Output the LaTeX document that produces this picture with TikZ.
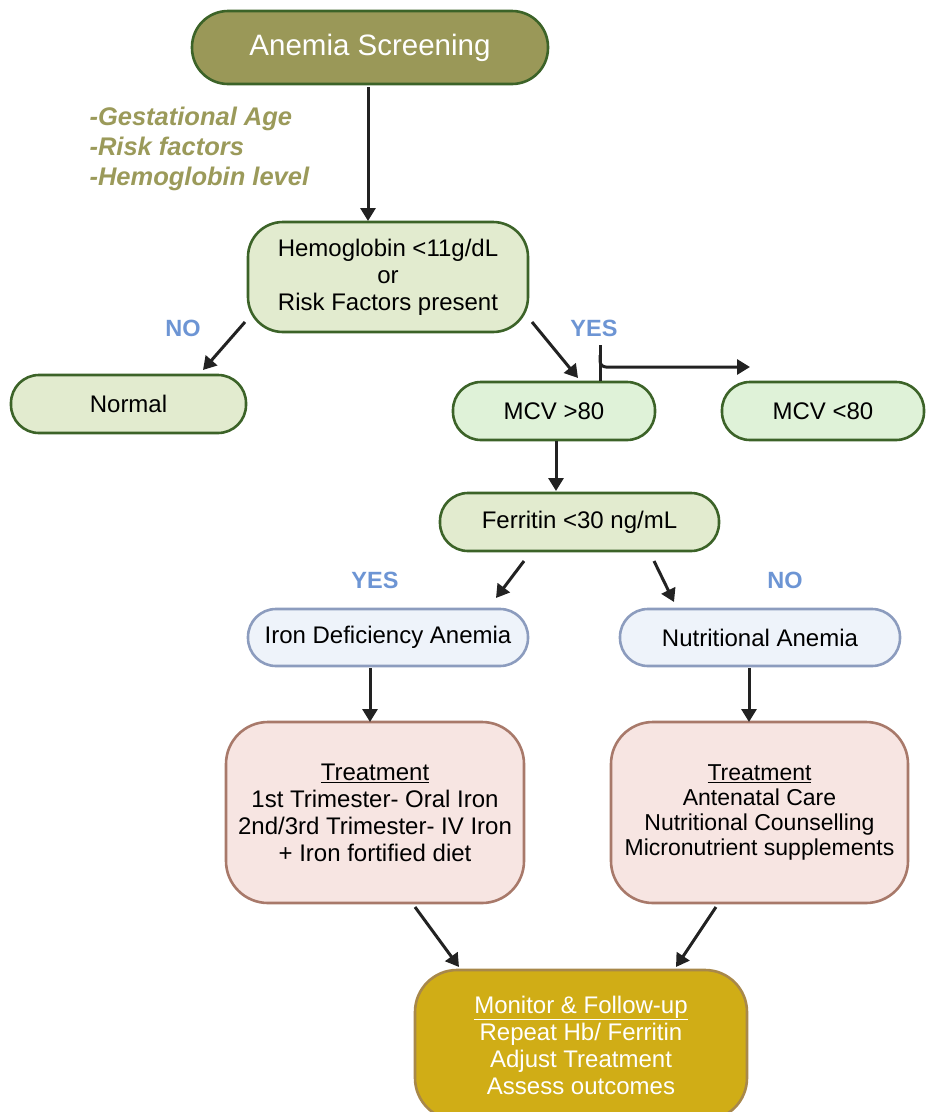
\documentclass[tikz,border=0pt]{standalone}
\usepackage{fontspec}
\setmainfont{Liberation Sans}
\usetikzlibrary{arrows.meta}

\definecolor{screenFill}{HTML}{9A9858}
\definecolor{boxEdge}{HTML}{3C6328}
\definecolor{hbFill}{HTML}{E2EBCF}
\definecolor{mcvFill}{HTML}{DFF2D8}
\definecolor{anemiaFill}{HTML}{EEF3FA}
\definecolor{anemiaEdge}{HTML}{8C9CBE}
\definecolor{treatFill}{HTML}{F7E5E2}
\definecolor{treatEdge}{HTML}{A8796A}
\definecolor{monFill}{HTML}{D0AD16}
\definecolor{monEdge}{HTML}{A8884A}
\definecolor{riskText}{HTML}{9B9A5A}
\definecolor{answer}{HTML}{6D95D4}
\definecolor{arrowCol}{HTML}{222222}

\tikzset{
  box/.style={draw=boxEdge, line width=2.6pt, inner sep=0pt, align=center,
    font=\fontsize{24}{27}\selectfont},
  greenbox/.style={box, fill=hbFill, minimum height=58pt, rounded corners=28pt},
  mcvbox/.style={box, fill=mcvFill, minimum width=202pt, minimum height=58pt, rounded corners=28pt},
  anemiabox/.style={box, draw=anemiaEdge, fill=anemiaFill, minimum width=280pt,
    minimum height=57pt, rounded corners=28pt},
  treatbox/.style={box, draw=treatEdge, fill=treatFill, minimum height=181pt, rounded corners=42pt},
  yesno/.style={text=answer, font=\fontsize{23.5}{27}\selectfont\bfseries},
  arr/.style={draw=arrowCol, line width=3pt, -{Triangle[length=13pt,width=15pt]}},
  plain/.style={draw=arrowCol, line width=3pt}
}

\begin{document}
\begin{tikzpicture}[x=1pt, y=-1pt]
  \useasboundingbox (0,0) rectangle (926,1112);
  \clip (0,0) rectangle (926,1112);

  \node[box, fill=screenFill, text=white, minimum width=356pt, minimum height=73pt,
    rounded corners=36pt, font=\fontsize{29.5}{32}\selectfont] (screen) at (370,47.5) {Anemia Screening};
  \node[anchor=west, align=left, text=riskText, font=\fontsize{25.5}{30}\selectfont\bfseries\itshape]
    (risk) at (86,149) {-Gestational Age\\-Risk factors\\-Hemoglobin level};

  \node[greenbox, minimum width=280pt, minimum height=110pt, rounded corners=35pt]
    (hb) at (388,277) {Hemoglobin <11g/dL\\or\\Risk Factors present};
  \node[greenbox, minimum width=235pt] (normal) at (128.5,404) {Normal};
  \node[mcvbox] (mcvhi) at (554,411) {MCV >80};
  \node[mcvbox] (mcvlo) at (823,411) {MCV <80};
  \node[greenbox, minimum width=279pt] (ferritin) at (579.5,522) {Ferritin <30 ng/mL};

  \node[anemiabox] (ida) at (388,637.5) {Iron Deficiency Anemia};
  \node[anemiabox] (nutri) at (760,637.5) {Nutritional Anemia};

  \node[treatbox, minimum width=298pt] (treatL) at (375,812.5)
    {\underline{Treatment}\\1st Trimester- Oral Iron\\2nd/3rd Trimester- IV Iron\\+ Iron fortified diet};
  \node[treatbox, minimum width=297pt, font=\fontsize{23}{25}\selectfont] (treatR) at (759.5,812.5)
    {\underline{Treatment}\\Antenatal Care\\Nutritional Counselling\\Micronutrient supplements};

  \node[box, draw=monEdge, fill=monFill, text=white, minimum width=332pt, minimum height=150pt,
    rounded corners=42pt] (monitor) at (581,1045)
    {\underline{Monitor \& Follow-up}\\Repeat Hb/ Ferritin\\Adjust Treatment\\Assess outcomes};

  \node[yesno] (noHb) at (183,328) {NO};
  \node[yesno] (yesHb) at (594,328) {YES};
  \node[yesno] (yesFe) at (375,580) {YES};
  \node[yesno] (noFe) at (785,580) {NO};

  \coordinate (hbL) at (245,322);
  \coordinate (normalT) at (203,370);
  \coordinate (hbR) at (532,322);
  \coordinate (mcvhiT) at (578,378);
  \coordinate (yesTop) at (600,345);
  \coordinate (mcvloA) at (750,367);
  \coordinate (feL) at (524,561);
  \coordinate (idaT) at (496,598);
  \coordinate (feR) at (654,561);
  \coordinate (nutriT) at (674,602);
  \coordinate (treatLB) at (415,907);
  \coordinate (monL) at (459,967);
  \coordinate (treatRB) at (716,907);
  \coordinate (monR) at (676,967);

  \draw[arr] (368,87) -- (368,221);
  \draw[arr] (hbL) -- (normalT);
  \draw[arr] (hbR) -- (mcvhiT);
  \draw[plain] (yesTop) -- (yesTop |- mcvhi.north);
  \draw[arr, rounded corners=6pt] (600,355) |- (mcvloA);
  \draw[arr] (556,441) -- (556,491);
  \draw[arr] (feL) -- (idaT);
  \draw[arr] (feR) -- (nutriT);
  \draw[arr] (370,668) -- (370,722);
  \draw[arr] (749,668) -- (749,722);
  \draw[arr] (treatLB) -- (monL);
  \draw[arr] (treatRB) -- (monR);
\end{tikzpicture}
\end{document}
